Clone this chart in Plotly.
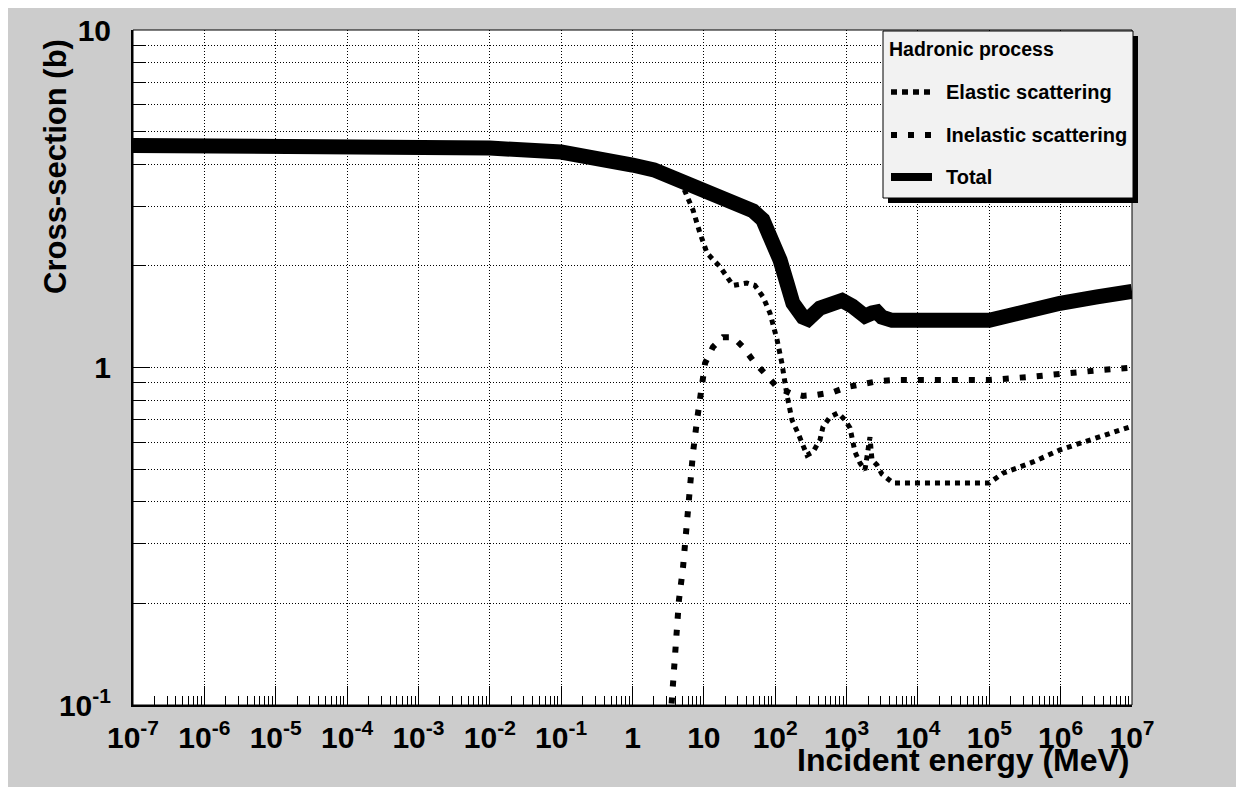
import plotly.graph_objects as go

# ---------------- data ----------------
E_total = [1e-7, 1e-4, 1e-2, 0.1, 0.3, 1, 2, 3, 4.6, 8.8, 12, 16.8, 32, 49, 67, 93, 117,
           146, 177, 245, 288, 424, 645, 863, 1200, 1541, 1810, 2270, 2670, 3133, 4330,
           1e5, 4.1e5, 9.8e5, 3.24e6, 1e7]
V_total = [4.55, 4.52, 4.47, 4.35, 4.22, 3.98, 3.85, 3.72, 3.55, 3.31, 3.25, 3.18, 3.0, 2.91, 2.74, 2.39, 2.08,
           1.78, 1.55, 1.41, 1.39, 1.50, 1.57, 1.58, 1.52, 1.43, 1.42, 1.45, 1.46, 1.41, 1.38,
           1.38, 1.50, 1.55, 1.62, 1.68]

E_elastic = [1e-7, 1e-4, 1e-2, 0.1, 0.3, 1, 2, 3, 4, 5.1, 7.04, 8.83, 11.1, 16.8, 25.6, 40.2,
             52, 67.3, 84.4, 106, 124, 146, 172, 208, 237, 279, 338, 424, 467, 585, 758, 950,
             1117, 1312, 1541, 1810, 2128, 2270, 2670, 3133, 4470, 1e5, 1.55e5, 4.1e5, 9.8e5,
             3.24e6, 1e7]
V_elastic = [4.55, 4.52, 4.47, 4.35, 4.22, 3.98, 3.85, 3.72, 3.58, 3.43, 2.93, 2.50, 2.18, 1.99, 1.75, 1.78,
             1.75, 1.62, 1.45, 1.21, 1.03, 0.829, 0.699, 0.640, 0.597, 0.550, 0.562, 0.610, 0.667, 0.713, 0.733, 0.699,
             0.662, 0.562, 0.521, 0.497, 0.622, 0.532, 0.514, 0.483, 0.455, 0.455, 0.486, 0.525, 0.570,
             0.622, 0.67]

E_inelastic = [3.4, 3.57, 4.07, 4.48, 5.10, 5.61, 5.99, 6.61, 7.04, 8.02, 8.83, 10.4, 13.4, 18.5,
               25.6, 35.3, 48.8, 76.7, 106, 161, 245, 385, 645, 1013, 1700, 2670, 4470, 1e5,
               4.1e5, 9.8e5, 3.24e6, 1e7]
V_inelastic = [0.09, 0.1035, 0.144, 0.205, 0.255, 0.324, 0.399, 0.497, 0.558, 0.698, 0.80, 1.03, 1.15, 1.23,
               1.23, 1.15, 1.05, 0.937, 0.875, 0.840, 0.824, 0.83, 0.845, 0.875, 0.894, 0.910, 0.918, 0.918,
               0.94, 0.96, 0.98, 1.0]

x_tickvals = [10.0 ** d for d in range(-7, 8)]
x_ticktext = ["10<sup>-7</sup>", "10<sup>-6</sup>", "10<sup>-5</sup>", "10<sup>-4</sup>",
              "10<sup>-3</sup>", "10<sup>-2</sup>", "10<sup>-1</sup>", "1", "10",
              "10<sup>2</sup>", "10<sup>3</sup>", "10<sup>4</sup>", "10<sup>5</sup>",
              "10<sup>6</sup>", "10<sup>7</sup>"]
y_tickvals = [0.1, 1, 10]
y_ticktext = ["10<sup>-1</sup>", "1", "10"]

legend_title = "Hadronic process"
series_names = ["Elastic scattering", "Inelastic scattering", "Total"]

# ---------------- geometry helpers (screen pixel -> paper) ----------------
OFF = 8                      # page body margin
W, H = 1244, 787
SL, SR, ST, SB = 133, 1132, 30, 705   # plot area in screen pixels
L, R, T, B = SL - OFF, SR - OFF, ST - OFF, SB - OFF
def px(p):
    return (p - SL) / (SR - SL)
def py(p):
    return (SB - p) / (SB - ST)

FONT = "Liberation Sans, Arial, Helvetica, sans-serif"

fig = go.Figure()
fig.add_trace(go.Scatter(x=E_elastic, y=V_elastic, mode="lines", name=series_names[0],
                         line=dict(color="black", width=5, dash="5px,5px")))
fig.add_trace(go.Scatter(x=E_inelastic, y=V_inelastic, mode="lines", name=series_names[1],
                         line=dict(color="black", width=6, dash="6px,11px")))
fig.add_trace(go.Scatter(x=E_total, y=V_total, mode="lines", name=series_names[2],
                         line=dict(color="black", width=15)))

x_minor = [k * 10.0 ** d for d in range(-7, 7) for k in range(2, 10)]
y_minor = [k * 10.0 ** d for d in (-1, 0) for k in range(2, 10)]
tiny = [10 ** (-1 + i / 160) for i in range(321)]

fig.update_layout(
    width=W, height=H, autosize=False,
    margin=dict(l=L, r=W - R, t=T, b=H - B, pad=0, autoexpand=False),
    paper_bgcolor="#cccccc", plot_bgcolor="white",
    showlegend=False,
    font=dict(family=FONT, color="black"),
    xaxis=dict(type="log", range=[-7, 7], showline=True, linecolor="black", linewidth=2,
               automargin=False,
               ticks="inside", ticklen=19, tickcolor="black", tickwidth=1,
               tickmode="array", tickvals=x_tickvals, ticktext=x_ticktext,
               tickfont=dict(family=FONT, size=30, weight="bold", color="black"),
               ticklabelstandoff=5,
               showgrid=True, gridcolor="black", gridwidth=1, griddash="1px,2px",
               zeroline=False,
               minor=dict(tickmode="array", tickvals=x_minor, ticks="inside", ticklen=9,
                          tickcolor="black", tickwidth=1, showgrid=False)),
    yaxis=dict(type="log", range=[-1, 1], showline=True, linecolor="black", linewidth=2,
               automargin=False,
               ticks="inside", ticklen=17, tickcolor="black", tickwidth=1,
               tickmode="array", tickvals=y_tickvals, ticktext=y_ticktext,
               tickfont=dict(family=FONT, size=30, weight="bold", color="black"),
               ticklabelstandoff=14,
               showgrid=True, gridcolor="black", gridwidth=1, griddash="1px,2px",
               zeroline=False,
               minor=dict(tickmode="array", tickvals=y_minor, ticks="inside", ticklen=13,
                          tickcolor="black", tickwidth=1, showgrid=True,
                          gridcolor="black", gridwidth=1, griddash="1px,2px")),
    yaxis2=dict(type="log", range=[-1, 1], overlaying="y", side="left", anchor="x",
                automargin=False,
                tickmode="array", tickvals=tiny, ticks="inside", ticklen=3,
                tickcolor="black", tickwidth=1, showticklabels=False,
                showgrid=False, zeroline=False, showline=False),
)

shapes = []
# plot frame
shapes.append(dict(type="rect", xref="paper", yref="paper", x0=0, x1=1, y0=0, y1=1,
                   line=dict(color="black", width=1), layer="above"))
# legend shadow and box
shapes.append(dict(type="rect", xref="paper", yref="paper", x0=px(888), x1=px(1138), y0=py(203), y1=py(36),
                   fillcolor="black", line=dict(width=0), layer="above"))
shapes.append(dict(type="rect", xref="paper", yref="paper", x0=px(883), x1=px(1133), y0=py(198), y1=py(31),
                   fillcolor="#f2f2f2", line=dict(color="black", width=1), layer="above"))
# legend samples
shapes.append(dict(type="line", xref="paper", yref="paper", x0=px(891), x1=px(932), y0=py(92), y1=py(92),
                   line=dict(color="black", width=5.5, dash="6px,5px"), layer="above"))
shapes.append(dict(type="line", xref="paper", yref="paper", x0=px(891), x1=px(933), y0=py(135), y1=py(135),
                   line=dict(color="black", width=6, dash="6px,11px"), layer="above"))
shapes.append(dict(type="line", xref="paper", yref="paper", x0=px(891), x1=px(932), y0=py(177), y1=py(177),
                   line=dict(color="black", width=8), layer="above"))
fig.update_layout(shapes=shapes)

tf = dict(family=FONT, size=19.5, weight="bold", color="black")
lf = dict(family=FONT, size=20, weight="bold", color="black")
ann = [
    dict(text=legend_title, x=px(887), y=py(49), xref="paper", yref="paper", xanchor="left",
         yanchor="middle", showarrow=False, font=tf),
    dict(text=series_names[0], x=px(944), y=py(92), xref="paper", yref="paper", xanchor="left",
         yanchor="middle", showarrow=False, font=lf),
    dict(text=series_names[1], x=px(944), y=py(135), xref="paper", yref="paper", xanchor="left",
         yanchor="middle", showarrow=False, font=lf),
    dict(text=series_names[2], x=px(944), y=py(177), xref="paper", yref="paper", xanchor="left",
         yanchor="middle", showarrow=False, font=lf),
    dict(text="Incident energy (MeV)", x=px(1132), y=py(760), xref="paper", yref="paper",
         xanchor="right", yanchor="middle", showarrow=False,
         font=dict(family=FONT, size=32, weight="bold", color="black")),
    dict(text="Cross-section (b)", x=px(55), y=py(167), xref="paper", yref="paper",
         xanchor="center", yanchor="middle", textangle=-90, showarrow=False,
         font=dict(family=FONT, size=31, weight="bold", color="black")),
]
fig.update_layout(annotations=ann)

fig.write_html("out.html")
